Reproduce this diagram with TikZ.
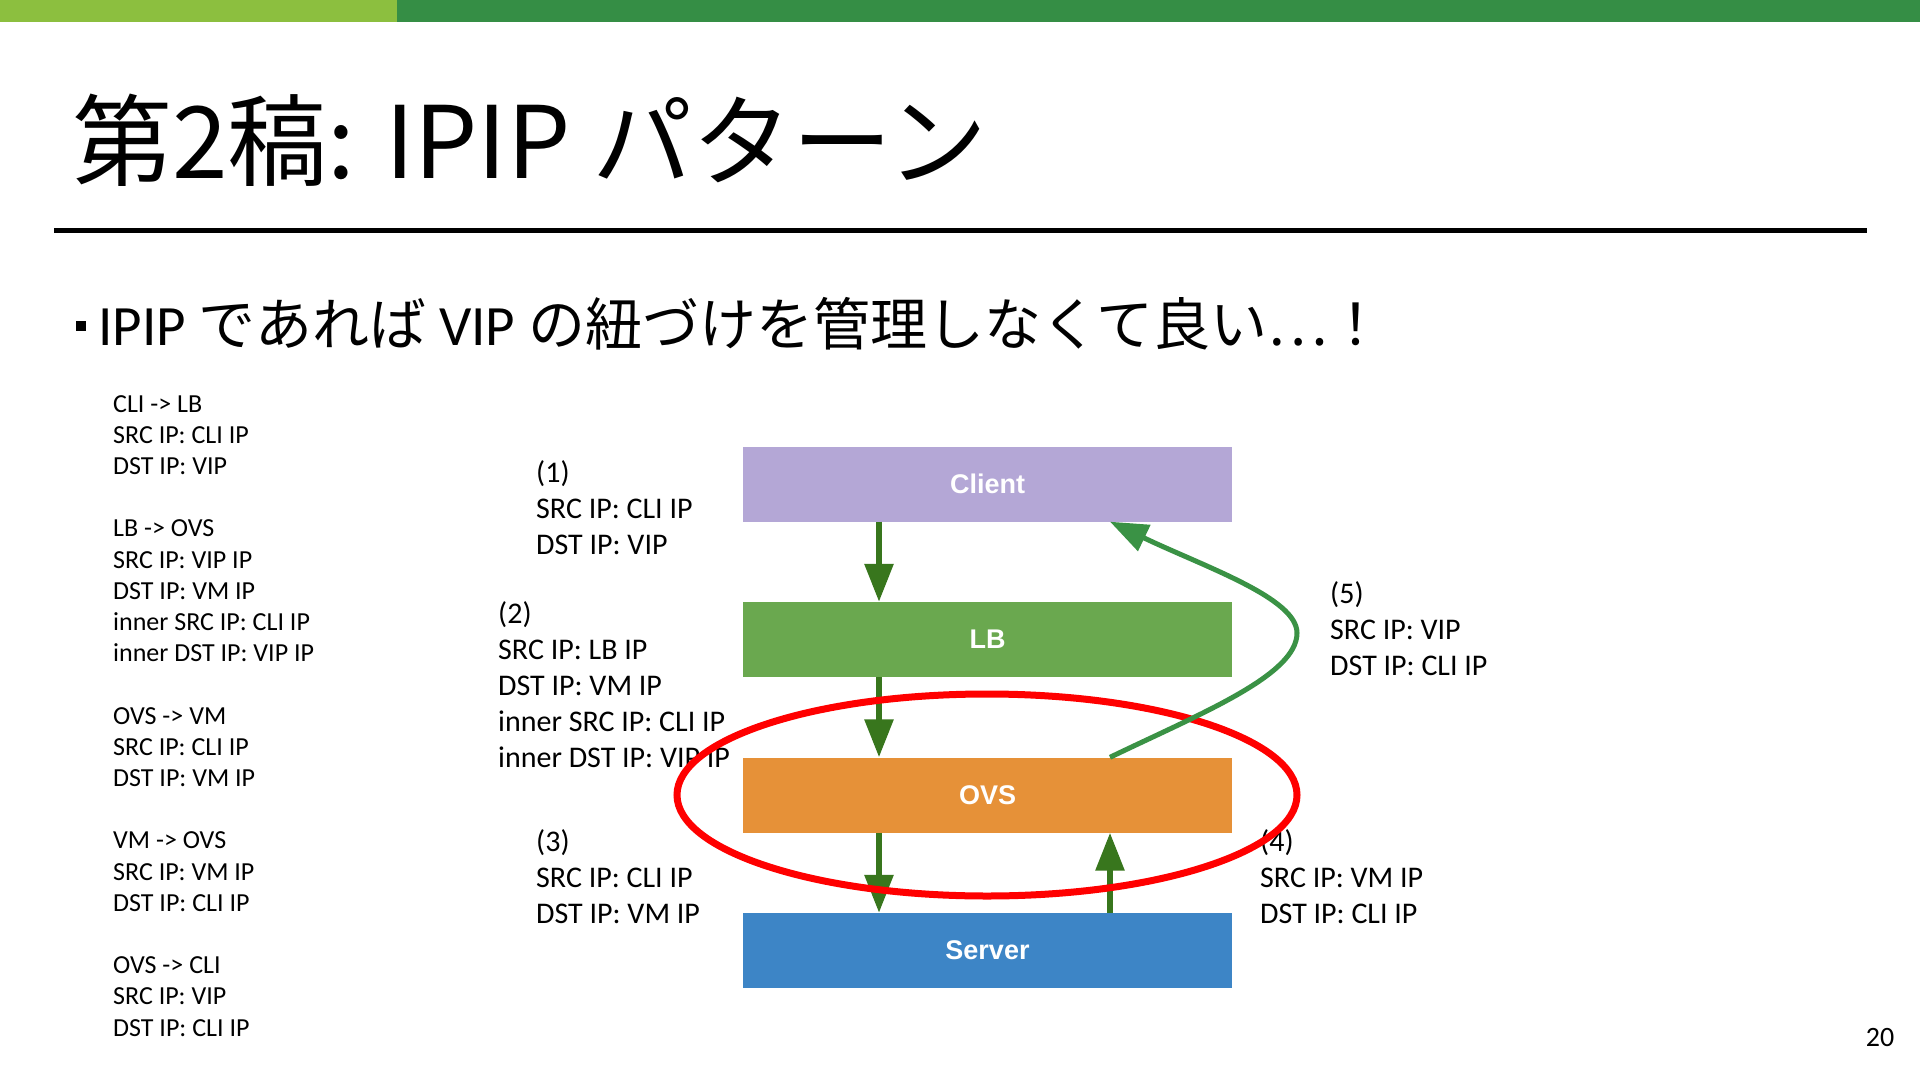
\documentclass[tikz,border=0pt]{standalone}
\usepackage{fontspec}
\setmainfont{Carlito}
\newfontfamily\jpfont{Noto Sans CJK JP}
\newfontfamily\boxfont{Liberation Sans}
\usetikzlibrary{arrows.meta}
\definecolor{barlight}{HTML}{8CBF3F}
\definecolor{bardark}{HTML}{358E45}
\definecolor{clientc}{HTML}{B4A7D6}
\definecolor{lbc}{HTML}{6AA84F}
\definecolor{ovsc}{HTML}{E69138}
\definecolor{serverc}{HTML}{3D85C6}
\definecolor{arrowc}{HTML}{38761D}
\definecolor{backc}{HTML}{3A9245}
\begin{document}
\begin{tikzpicture}[x=1pt,y=-1pt]
\tikzstyle{every node}=[inner sep=0pt]
\tikzstyle{box}=[minimum width=489pt,minimum height=75pt,text=white,font=\boxfont\bfseries\fontsize{27}{32}\selectfont]
\tikzstyle{pkt}=[anchor=north west,align=left,font=\fontsize{30}{36}\selectfont]
\tikzstyle{flow}=[draw=arrowc,line width=6pt,-{Triangle[length=38pt,width=28pt]}]
\tikzstyle{back}=[draw=backc,line width=5pt,-{Triangle[length=38pt,width=28pt]}]
\useasboundingbox (0,0) rectangle (1920,1081);
\fill[white] (0,0) rectangle (1920,1081);
\fill[barlight] (0,0) rectangle (397,22);
\fill[bardark] (397,0) rectangle (1920,22);
\node[anchor=base west,font=\jpfont\fontsize{100}{110}\selectfont](title) at (72,178) {第2稿: IPIP パターン};
\draw[line width=5pt] (54,230) -- (1867,230);
\node[fill=black,minimum size=10pt](dot) at (81,326) {};
\node[anchor=base west,font=\fontsize{57}{66}\selectfont](lead) at (98,345) {IPIP {\jpfont であれば} VIP {\jpfont の紐づけを管理しなくて良い…！}};
\node[anchor=north west,align=left,font=\fontsize{26}{31.2}\selectfont](steps) at (113,395) {CLI -> LB\\SRC IP: CLI IP\\DST IP: VIP\\[31.2pt]
LB -> OVS\\SRC IP: VIP IP\\DST IP: VM IP\\inner SRC IP: CLI IP\\inner DST IP: VIP IP\\[31.2pt]
OVS -> VM\\SRC IP: CLI IP\\DST IP: VM IP\\[31.2pt]
VM -> OVS\\SRC IP: VM IP\\DST IP: CLI IP\\[31.2pt]
OVS -> CLI\\SRC IP: VIP\\DST IP: CLI IP};
\node[box,fill=clientc](client) at (987.5,484) {Client};
\node[box,fill=lbc](lb) at (987.5,639.5) {LB};
\node[box,fill=ovsc](ovs) at (987.5,795) {OVS};
\node[box,fill=serverc](server) at (987.5,950.5) {Server};
\coordinate (dn) at (879,0);
\coordinate (up) at (1110,0);
\coordinate (bend) at (1297,633);
\draw[flow] (client.south -| dn) -- (lb.north -| dn);
\draw[flow] (lb.south -| dn) -- (ovs.north -| dn);
\draw[flow] (ovs.south -| dn) -- (server.north -| dn);
\draw[flow] (server.north -| up) -- (ovs.south -| up);
\node[pkt](p1) at (536,460) {(1)\\SRC IP: CLI IP\\DST IP: VIP};
\node[pkt](p2) at (498,601) {(2)\\SRC IP: LB IP\\DST IP: VM IP\\inner SRC IP: CLI IP\\inner DST IP: VIP IP};
\node[pkt](p3) at (536,829) {(3)\\SRC IP: CLI IP\\DST IP: VM IP};
\node[pkt](p4) at (1260,829) {(4)\\SRC IP: VM IP\\DST IP: CLI IP};
\node[pkt](p5) at (1330,581) {(5)\\SRC IP: VIP\\DST IP: CLI IP};
\draw[red,line width=7pt] (987,795) ellipse [x radius=310pt,y radius=101pt];
\draw[back] (ovs.north -| up) .. controls (1202,713) and (1297,675) .. (bend) .. controls (1297,598) and (1205,567) .. (client.south -| up);
\node[font=\fontsize{28}{34}\selectfont](page) at (1880,1037) {20};
\end{tikzpicture}
\end{document}
